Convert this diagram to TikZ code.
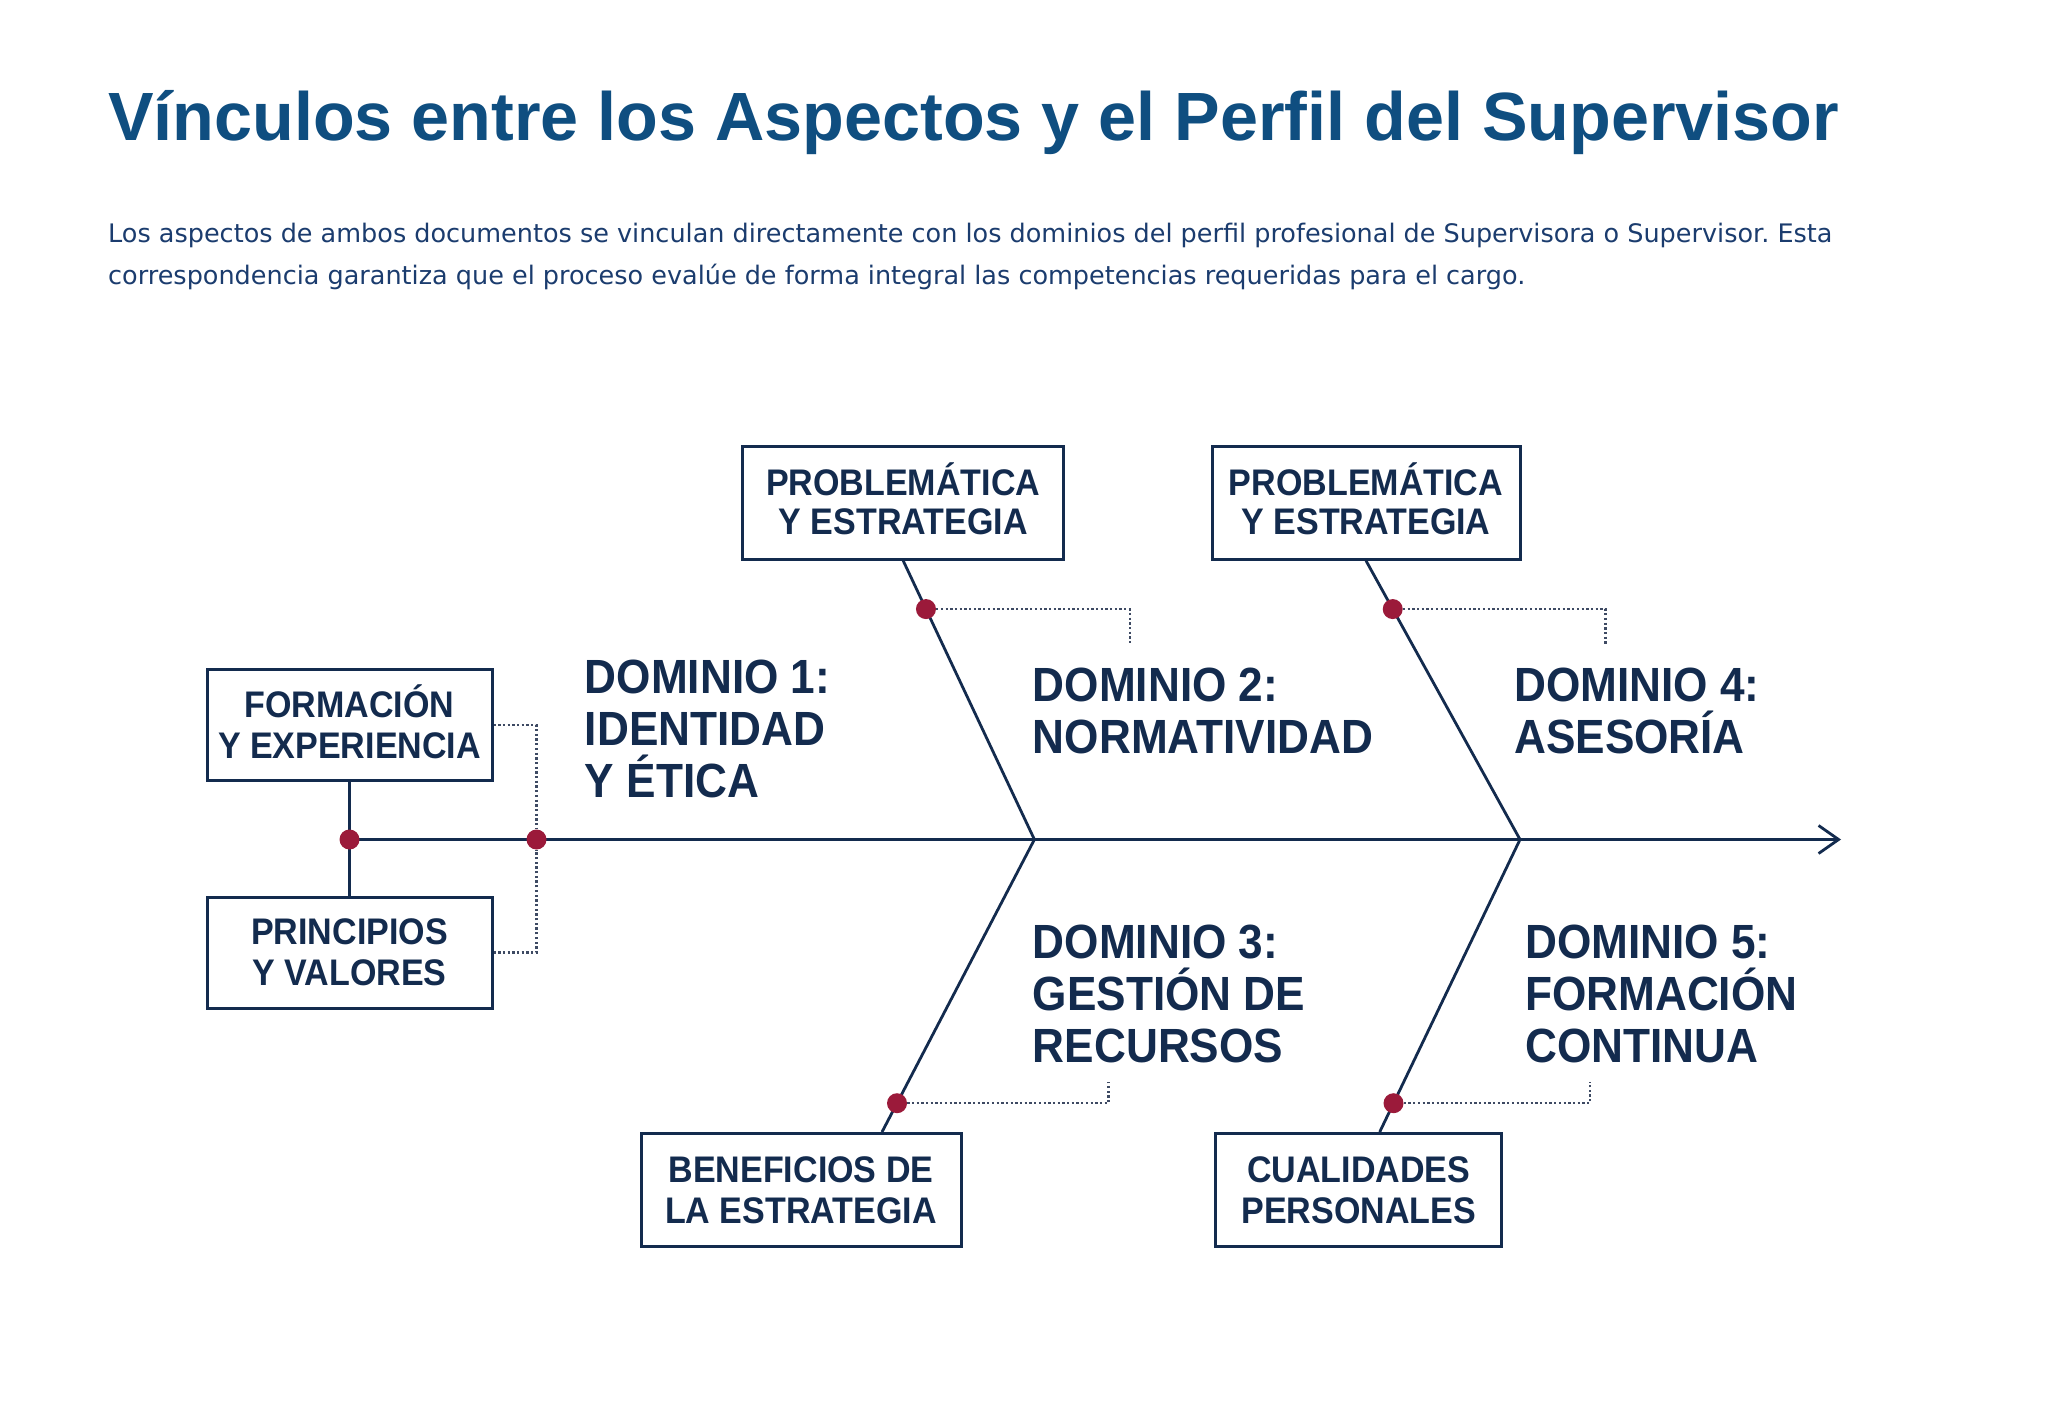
\documentclass[tikz,border=0pt]{standalone}
\usepackage{fontspec}
\setmainfont{Liberation Sans}
\newfontfamily\labfont{Liberation Sans}[FakeStretch=0.92]
\newfontfamily\parafont{DejaVu Sans}
\usetikzlibrary{arrows.meta,calc}
\definecolor{titleblue}{HTML}{0F4E80}
\definecolor{paranavy}{HTML}{1B3C6E}
\definecolor{navy}{HTML}{132B4E}
\definecolor{crimson}{HTML}{9B1A3A}
\definecolor{dotgray}{HTML}{3E4A63}
\frenchspacing
\begin{document}
\begin{tikzpicture}[x=1pt,y=-1pt,
  box/.style={draw=navy,line width=3pt,fill=white,minimum width=#1,minimum height=113pt,
    inner sep=0pt,align=center,text=navy,font=\labfont\bfseries\fontsize{37}{41}\selectfont},
  dom/.style={anchor=base west,inner sep=0pt,text=navy,font=\labfont\bfseries\fontsize{48}{52}\selectfont},
  bone/.style={draw=navy,line width=2.8pt},
  dotline/.style={draw=dotgray,line width=2.3pt,dash pattern=on 2.3pt off 2.4pt},
  knot/.style={circle,fill=crimson,inner sep=0pt,minimum size=20pt},
  para/.style={anchor=base west,inner sep=0pt,text=paranavy,font=\parafont\fontsize{25.5}{30}\selectfont}]
\useasboundingbox (0,0) rectangle (2048,1425);
\fill[white] (0,0) rectangle (2048,1425);

% header
\node[anchor=base west,inner sep=0pt,text=titleblue,font=\bfseries\fontsize{68.3}{80}\selectfont] (title) at (108,140) {Vínculos entre los Aspectos y el Perfil del Supervisor};
\node[para] (par1) at (108,242) {Los aspectos de ambos documentos se vinculan directamente con los dominios del perfil profesional de Supervisora o Supervisor. Esta};
\node[para] (par2) at (108,284) {correspondencia garantiza que el proceso evalúe de forma integral las competencias requeridas para el cargo.};

% boxes
\node[box=285pt,minimum height=111pt] (form) at (349.5,725) {FORMACI\smash{Ó}N\\Y EXPERIENCIA};
\node[box=285pt,minimum height=111pt] (prin) at (349.5,952.5) {PRINCIPIOS\\Y VALORES};
\node[box=321pt] (prob1) at (903.2,502.7) {\raisebox{-2pt}{PROBLEM\smash{Á}TICA}\\Y ESTRATEGIA};
\node[box=308pt] (prob2) at (1366,502.7) {\raisebox{-2pt}{PROBLEM\smash{Á}TICA}\\Y ESTRATEGIA};
\node[box=320pt] (bene) at (801,1190) {BENEFICIOS DE\\LA ESTRATEGIA};
\node[box=286pt] (cual) at (1358.7,1190) {CUALIDADES\\PERSONALES};

% junctions
\coordinate (j0) at (349.5,839.5);
\coordinate (jd) at (536.5,839.5);
\coordinate (j1) at (1034.4,839.5);
\coordinate (j2) at (1520,839.5);
\coordinate (tip) at (1841,839.5);
\coordinate (bx) at (882,0);
\coordinate (cx) at (1379.7,0);

% bones
\draw[bone,-{Straight Barb[length=20pt,width=28pt]}] (j0) -- (tip);
\draw[bone] (form.south) -- (prin.north);
\draw[bone] (prob1.south) -- (j1);
\draw[bone] (prob2.south) -- (j2);
\draw[bone] (j1) -- (bene.north -| bx);
\draw[bone] (j2) -- (cual.north -| cx);

% knots
\node[knot] (k0) at (j0) {};
\node[knot] (kd) at (jd) {};
\node[knot] (kp1) at ($(prob1.south)!0.1735!(j1)$) {};
\node[knot] (kp2) at ($(prob2.south)!0.1735!(j2)$) {};
\node[knot] (kb) at ($(j1)!0.9015!(bene.north -| bx)$) {};
\node[knot] (kc) at ($(j2)!0.9015!(cual.north -| cx)$) {};

% dotted leaders
\coordinate (e1) at (1129.7,645);
\coordinate (e2) at (1605.6,645);
\coordinate (e3) at (1108.4,1081.7);
\coordinate (e4) at (1590,1081.7);
\draw[dotline] (form.east) -| (kd.north);
\draw[dotline] (prin.east) -| (kd.south);
\draw[dotline] (kp1.east) -| (e1);
\draw[dotline] (kp2.east) -| (e2);
\draw[dotline] (kb.east) -| (e3);
\draw[dotline] (kc.east) -| (e4);

% domain labels
\node[dom] (d1) at (584.7,693.3) {\vtop{\hbox{DOMINIO 1:}\hbox{IDENTIDAD}\hbox{Y ÉTICA}}};
\node[dom] (d2) at (1032.7,701.7) {\vtop{\hbox{DOMINIO 2:}\hbox{NORMATIVIDAD}}};
\node[dom] (d3) at (1032.7,958) {\vtop{\hbox{DOMINIO 3:}\hbox{GESTIÓN DE}\hbox{RECURSOS}}};
\node[dom] (d4) at (1514,701.7) {\vtop{\hbox{DOMINIO 4:}\hbox{ASESORÍA}}};
\node[dom] (d5) at (1525,958) {\vtop{\hbox{DOMINIO 5:}\hbox{FORMACIÓN}\hbox{CONTINUA}}};
\end{tikzpicture}
\end{document}
